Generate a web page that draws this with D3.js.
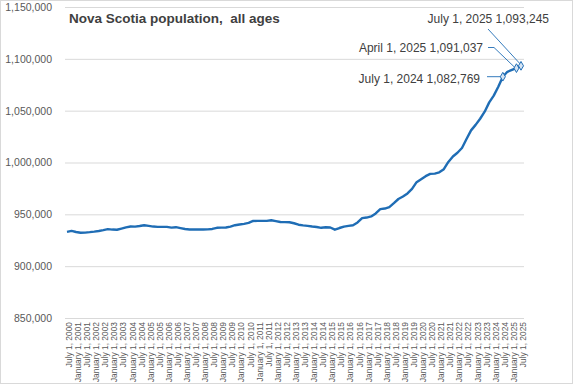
<!DOCTYPE html>
<html>
<head>
<meta charset="utf-8">
<script src="https://cdn.jsdelivr.net/npm/d3@7"></script>
<style>
  html, body { margin: 0; padding: 0; background: #fff; }
  svg { display: block; }
</style>
</head>
<body>
<div id="chart"></div>
<script>
'use strict';

// quarterly population, July 1 2000 .. July 1 2025
const population = [
  933100, 934000, 933000, 932200, 932400, 932800, 933300, 933900,
  934700, 935700, 935300, 935100, 936200, 937400, 938300, 938100,
  938700, 939500, 938900, 938200, 937900, 937900, 937900, 937200,
  937600, 936700, 935900, 935400, 935400, 935400, 935400, 935500,
  935900, 937000, 937200, 937300, 938200, 939500, 940200, 940800,
  941700, 943600, 943700, 943700, 943700, 944300, 943500, 942600,
  942500, 942400, 941400, 940000, 939400, 938900, 938300, 937800,
  937000, 937500, 937300, 935200, 936800, 938200, 938900, 939500,
  942200, 946300, 946900, 948000, 950900, 955000, 955600, 957000,
  960800, 964800, 967200, 970200, 974600, 981000, 983900, 986800,
  989000, 989300, 990500, 993500, 1000500, 1005800, 1009400, 1014000,
  1022600, 1031000, 1036300, 1042200, 1049000, 1058000, 1064500, 1073000,
  1082769, 1087500, 1089300, 1091037, 1093245
];

const firstYear = 2000;
const quarterMonths = ['July', 'October', 'January', 'April'];
const yTicks = [850000, 900000, 950000, 1000000, 1050000, 1100000, 1150000];

const annotations = [
  { index: 96, label: 'July 1, 2024 1,082,769' },
  { index: 99, label: 'April 1, 2025 1,091,037' },
  { index: 100, label: 'July 1, 2025 1,093,245' }
];

const title = 'Nova Scotia population,  all ages';

// category names for every quarter
const quarters = population.map((v, i) => {
  const m = quarterMonths[i % 4];
  const y = firstYear + Math.floor((i + 2) / 4);
  return `${m} 1, ${y}`;
});

const config = {
  width: 577,
  height: 385,
  plot: { left: 67, right: 521, top: 7, bottom: 318 },
  gridRight: 524,
  lineColor: '#1f6db5',
  gridColor: '#d9d9d9',
  textColor: '#595959'
};

const svg = d3.select('#chart').append('svg')
  .attr('width', config.width)
  .attr('height', config.height);

svg.append('rect')
  .attr('x', 0.5).attr('y', 0.5)
  .attr('width', 572).attr('height', 383)
  .attr('fill', '#fff')
  .attr('stroke', '#d9d9d9');

const x = d3.scalePoint()
  .domain(quarters)
  .range([config.plot.left, config.plot.right]);

const y = d3.scaleLinear()
  .domain([850000, 1150000])
  .range([config.plot.bottom, config.plot.top]);

// gridlines + y labels
const yAxis = d3.axisLeft(y)
  .tickValues(yTicks)
  .tickFormat(d3.format(','))
  .tickSize(-(config.gridRight - config.plot.left + 2))
  .tickPadding(13);

const $yAxis = svg.append('g')
  .attr('transform', `translate(${config.plot.left - 2}, 0)`)
  .call(yAxis);
$yAxis.select('.domain').remove();
$yAxis.selectAll('.tick line')
  .attr('stroke', config.gridColor);
$yAxis.selectAll('.tick text')
  .attr('fill', config.textColor)
  .style('font-family', '"Liberation Sans", Arial, sans-serif')
  .style('font-size', '10.5px');

// x labels, every other quarter
const xLabels = quarters.filter((q, i) => i % 2 === 0);
const xAxis = d3.axisBottom(x)
  .tickValues(xLabels)
  .tickSize(0)
  .tickPadding(0);

const $xAxis = svg.append('g')
  .attr('transform', `translate(0, ${config.plot.bottom})`)
  .call(xAxis);
$xAxis.select('.domain').remove();
$xAxis.selectAll('.tick text')
  .attr('transform', 'translate(1.5, 4) rotate(-90)')
  .attr('text-anchor', 'end')
  .attr('x', 0).attr('y', 0).attr('dy', '0.35em')
  .attr('fill', config.textColor)
  .style('font-family', '"Liberation Sans", Arial, sans-serif')
  .style('font-size', '8.4px');

// line
const line = d3.line()
  .x((d, i) => x(quarters[i]))
  .y(d => y(d))
  .curve(d3.curveLinear);

svg.append('path')
  .datum(population)
  .attr('d', line)
  .attr('fill', 'none')
  .attr('stroke', config.lineColor)
  .attr('stroke-width', 2.4)
  .attr('stroke-linejoin', 'round');

// title
svg.append('text')
  .attr('x', 69).attr('y', 23)
  .attr('fill', '#404040')
  .style('font-family', '"Liberation Sans", Arial, sans-serif')
  .style('font-weight', 'bold')
  .style('font-size', '13.5px')
  .style('white-space', 'pre')
  .text(title);

// annotations
const labelPos = [
  { tx: 480, ty: 79, path: (px, py) => `M487,${py}L${px - 2},${py}` },
  { tx: 483, ty: 47.5, path: (px, py) => `M488,47.5L494,47.5L${px - 2},${py - 1}` },
  { tx: 549, ty: 19, path: (px, py) => `M488,29L${px},${py - 1}` }
];

annotations.forEach((a, k) => {
  const px = x(quarters[a.index]);
  const py = y(population[a.index]);
  const pos = labelPos[k];
  svg.append('path')
    .attr('d', pos.path(px, py))
    .attr('fill', 'none')
    .attr('stroke', config.lineColor)
    .attr('stroke-width', 0.9);
  svg.append('text')
    .attr('x', pos.tx).attr('y', pos.ty)
    .attr('dy', '0.35em')
    .attr('text-anchor', 'end')
    .attr('fill', '#404040')
    .style('font-family', '"Liberation Sans", Arial, sans-serif')
    .style('font-size', '12px')
    .text(a.label);
});

svg.selectAll('.marker')
  .data(annotations)
  .enter().append('path')
  .attr('class', 'marker')
  .attr('transform', d => `translate(${x(quarters[d.index])}, ${y(population[d.index])})`)
  .attr('d', d3.symbol().type(d3.symbolDiamond).size(22))
  .attr('fill', '#d6e4f3')
  .attr('stroke', config.lineColor)
  .attr('stroke-width', 1);
</script>
</body>
</html>
